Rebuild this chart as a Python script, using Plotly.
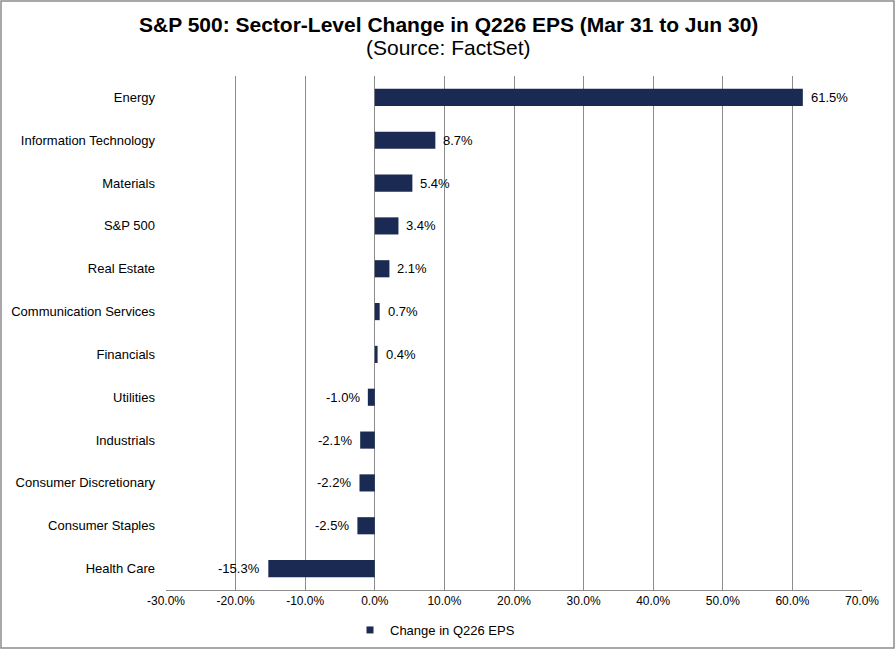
import plotly.graph_objects as go

categories = ["Energy", "Information Technology", "Materials", "S&P 500", "Real Estate",
              "Communication Services", "Financials", "Utilities", "Industrials",
              "Consumer Discretionary", "Consumer Staples", "Health Care"]
values = [61.5, 8.7, 5.4, 3.4, 2.1, 0.7, 0.4, -1.0, -2.1, -2.2, -2.5, -15.3]
tick_vals = [-30, -20, -10, 0, 10, 20, 30, 40, 50, 60, 70]
tick_text = [f"{v:.1f}%" for v in tick_vals]
series_name = "Change in Q226 EPS"

FONT = "Liberation Sans, Arial, sans-serif"
BAR = "#1B2A52"
GRID = "#8C8C8C"

PL, PR, PT, PB = 166, 34, 76, 60
W, H = 896, 650
PW, PH = W - PL - PR, H - PT - PB

fig = go.Figure()
fig.add_trace(go.Bar(
    y=categories, x=values, orientation="h",
    marker=dict(color=BAR, line=dict(width=0)),
    width=0.4, showlegend=False, name=series_name,
))
# legend proxy with small square marker
fig.add_trace(go.Scatter(
    x=[None], y=[None], mode="markers", name=series_name,
    marker=dict(symbol="square", size=7, color=BAR),
    showlegend=True,
))

# data labels
for c, v in zip(categories, values):
    fig.add_annotation(
        x=v, y=c, xref="x", yref="y", text=f"{v:.1f}%", showarrow=False,
        xanchor="left" if v >= 0 else "right",
        xshift=6 if v >= 0 else -6,
        font=dict(family=FONT, size=13, color="#000000"),
    )

# title and subtitle (centered on the whole page)
cx = (W / 2 - PL) / PW
fig.add_annotation(
    x=cx, y=(H - PB - 25) / PH, xref="paper", yref="paper", showarrow=False,
    text="<b>S&P 500: Sector-Level Change in Q226 EPS (Mar 31 to Jun 30)</b>",
    xanchor="center", yanchor="middle",
    font=dict(family=FONT, size=21, color="#000000"),
)
fig.add_annotation(
    x=cx, y=(H - PB - 48) / PH, xref="paper", yref="paper", showarrow=False,
    text="(Source: FactSet)", xanchor="center", yanchor="middle",
    font=dict(family=FONT, size=21, color="#000000"),
)

fig.update_layout(
    width=W, height=H,
    margin=dict(l=PL, r=PR, t=PT, b=PB, autoexpand=False),
    paper_bgcolor="white", plot_bgcolor="white",
    font=dict(family=FONT, color="#000000"),
    xaxis=dict(
        range=[-30, 70], tickvals=tick_vals, ticktext=tick_text,
        showgrid=True, gridcolor=GRID, gridwidth=1,
        zeroline=True, zerolinecolor=GRID, zerolinewidth=1,
        showline=True, linecolor=GRID, linewidth=1,
        ticks="", tickfont=dict(family=FONT, size=12, color="#000000"),
        fixedrange=True,
    ),
    yaxis=dict(
        categoryorder="array", categoryarray=categories[::-1],
        range=[-0.5, len(categories) - 0.5],
        showgrid=False, zeroline=False, showline=False, ticks="",
        tickfont=dict(family=FONT, size=13, color="#000000"),
        ticklabelstandoff=10,
    ),
    showlegend=True,
    legend=dict(
        orientation="h", xref="container", x=435 / W, xanchor="center",
        yref="container", y=20 / H, yanchor="middle",
        font=dict(family=FONT, size=13, color="#000000"),
        itemwidth=30, bgcolor="rgba(0,0,0,0)",
    ),
)
fig.add_shape(type="rect", xref="paper", yref="paper",
              x0=-(PL - 1) / PW, x1=1 + (PR - 2) / PW,
              y0=-(PB - 2) / PH, y1=1 + (PT - 1) / PH,
              line=dict(color=GRID, width=1.5))

fig.write_html("out.html")
